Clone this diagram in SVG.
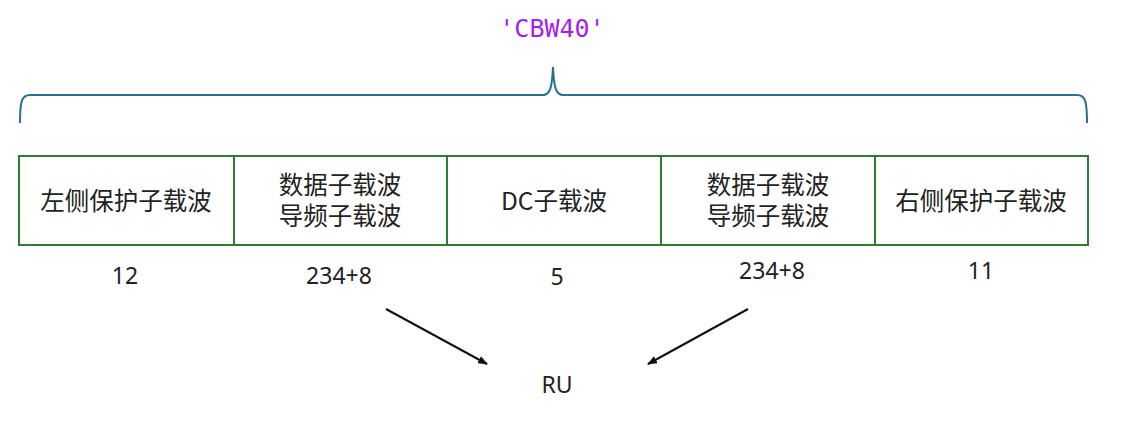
<svg xmlns="http://www.w3.org/2000/svg" width="1130" height="424" viewBox="0 0 1130 424">
<defs>
<marker id="ah" markerWidth="10" markerHeight="8" refX="9" refY="4" orient="auto" markerUnits="userSpaceOnUse">
<path d="M0,0 L10,4 L0,8 Z" fill="#111"/>
</marker>
<style>
.box{fill:#fff;stroke:#2e7d32;stroke-width:2}
.cn{font-family:"Noto Sans CJK SC","Noto Sans",sans-serif;font-size:24.5px;fill:#222;text-anchor:middle}
.num{font-family:"Noto Sans","Liberation Sans",sans-serif;font-size:23px;fill:#222;text-anchor:middle}
.conn{stroke:#111;stroke-width:2;fill:none}
</style>
</defs>
<rect width="1130" height="424" fill="#fff"/>
<text x="552" y="37" font-family="DejaVu Sans Mono,monospace" font-size="25" fill="#a31ff0" text-anchor="middle">'CBW40'</text>
<path d="M20,123 C20,100 22,95 30,95 L543,95 C550,95 552,88 553,67 C554,88 556,95 563,95 L1077,95 C1085,95 1087,100 1087,123" fill="none" stroke="#2a6f8f" stroke-width="2"/>
<g id="n1"><rect class="box" x="19" y="156" width="215" height="89"/><text class="cn" x="126" y="210">左侧保护子载波</text></g>
<g id="n2"><rect class="box" x="234" y="156" width="213" height="89"/><text class="cn" x="340" y="194">数据子载波</text><text class="cn" x="340" y="225">导频子载波</text></g>
<g id="n3"><rect class="box" x="447" y="156" width="214" height="89"/><text class="cn" x="554" y="210">DC子载波</text></g>
<g id="n4"><rect class="box" x="661" y="156" width="214" height="89"/><text class="cn" x="768" y="194">数据子载波</text><text class="cn" x="768" y="225">导频子载波</text></g>
<g id="n5"><rect class="box" x="875" y="156" width="213" height="89"/><text class="cn" x="981" y="210">右侧保护子载波</text></g>
<g id="labels">
<text class="num" x="125" y="284">12</text>
<text class="num" x="339" y="284">234+8</text>
<text class="num" x="557" y="285">5</text>
<text class="num" x="772" y="279">234+8</text>
<text class="num" x="981" y="279">11</text>
</g>
<g id="ru"><text class="num" x="557" y="393">RU</text></g>
<g id="connectors">
<line class="conn" x1="386" y1="309" x2="487" y2="364" marker-end="url(#ah)"/>
<line class="conn" x1="748" y1="309" x2="648" y2="364" marker-end="url(#ah)"/>
</g>
</svg>
